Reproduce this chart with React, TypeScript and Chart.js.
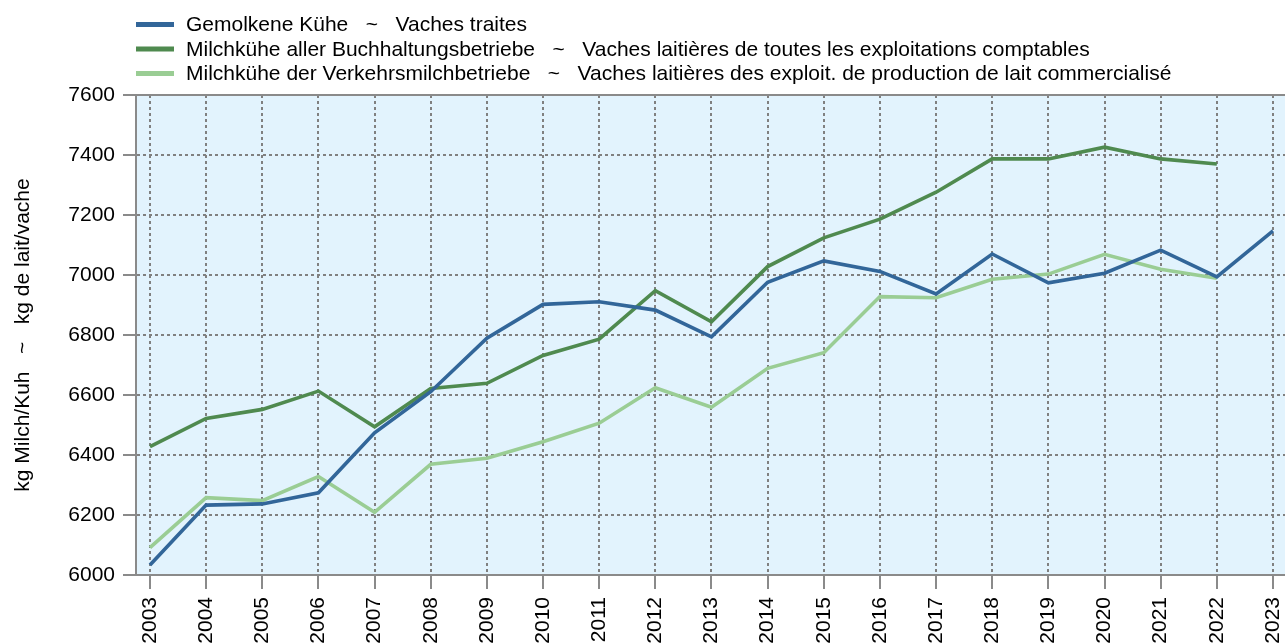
import React, { useEffect, useRef } from "react";
import { Chart, registerables } from "chart.js";

Chart.register(...registerables);

const years = [2003, 2004, 2005, 2006, 2007, 2008, 2009, 2010, 2011, 2012, 2013, 2014, 2015, 2016, 2017, 2018, 2019, 2020, 2021, 2022, 2023];
const gemolkene = [6033, 6233, 6237, 6274, 6474, 6611, 6789, 6902, 6911, 6883, 6794, 6976, 7047, 7012, 6937, 7070, 6974, 7006, 7083, 6994, 7147];
const buchhaltung = [6428, 6522, 6552, 6613, 6494, 6622, 6639, 6732, 6786, 6948, 6844, 7028, 7124, 7186, 7276, 7387, 7387, 7426, 7387, 7370, null];
const verkehrsmilch = [6091, 6258, 6248, 6328, 6209, 6369, 6389, 6444, 6506, 6624, 6559, 6689, 6741, 6928, 6924, 6986, 7003, 7069, 7019, 6989, null];
const seriesLabels = [
  "Gemolkene Kühe   ~   Vaches traites",
  "Milchkühe aller Buchhaltungsbetriebe   ~   Vaches laitières de toutes les exploitations comptables",
  "Milchkühe der Verkehrsmilchbetriebe   ~   Vaches laitières des exploit. de production de lait commercialisé",
];
const seriesColors = ["#326699", "#4f8a4f", "#9acd94"];
const yTitle = "kg Milch/Kuh   ~   kg de lait/vache";
const yMin = 6000;
const yMax = 7600;
const yStep = 200;

const FONT = "'Liberation Sans', Arial, sans-serif";

const bgPlugin = {
  id: "bgPlugin",
  beforeDraw(chart: any) {
    const { ctx, chartArea } = chart;
    ctx.save();
    ctx.fillStyle = "#e2f3fd";
    ctx.fillRect(chartArea.left, chartArea.top, chartArea.right - chartArea.left, chartArea.bottom - chartArea.top);
    ctx.restore();
  },
  afterDraw(chart: any) {
    const { ctx, chartArea } = chart;
    ctx.save();
    ctx.strokeStyle = "#8a8a8a";
    ctx.lineWidth = 2;
    ctx.beginPath();
    ctx.moveTo(chartArea.left - 12, chartArea.top);
    ctx.lineTo(chartArea.right, chartArea.top);
    ctx.stroke();
    // legend
    const rows = [24.5, 49, 73.5];
    chart.data.datasets.forEach((ds: any, i: number) => {
      const y = rows[i];
      ctx.strokeStyle = ds.borderColor;
      ctx.lineWidth = 5;
      ctx.beginPath();
      ctx.moveTo(136, y);
      ctx.lineTo(174, y);
      ctx.stroke();
      ctx.fillStyle = "#000";
      ctx.font = `21px ${FONT}`;
      ctx.textBaseline = "middle";
      ctx.textAlign = "left";
      ctx.fillText(ds.label, 186, y + 1);
    });
    ctx.restore();
  },
};

export default function App() {
  const ref = useRef<HTMLCanvasElement>(null);
  useEffect(() => {
    if (!ref.current) return;
    const mk = (arr: (number | null)[]) => years.map((x, i) => ({ x, y: arr[i] }));
    const chart = new Chart(ref.current, {
      type: "line",
      data: {
        datasets: [
          { label: seriesLabels[0], data: mk(gemolkene), borderColor: seriesColors[0] },
          { label: seriesLabels[1], data: mk(buchhaltung), borderColor: seriesColors[1] },
          { label: seriesLabels[2], data: mk(verkehrsmilch), borderColor: seriesColors[2] },
        ].map((d) => ({ ...d, borderWidth: 3.6, pointRadius: 0, tension: 0, fill: false, spanGaps: false })),
      },
      options: {
        animation: false,
        responsive: false,
        layout: { padding: { top: 95, left: 0, right: 0, bottom: 0 } },
        plugins: { legend: { display: false }, tooltip: { enabled: false } },
        scales: {
          x: {
            type: "linear",
            min: 2002.751,
            max: 2023.214,
            afterBuildTicks: (s: any) => {
              s.ticks = years.map((v) => ({ value: v }));
            },
            afterFit: (s: any) => {
              s.height = 69;
              s.paddingLeft = 0;
              s.paddingRight = 0;
            },
            grid: {
              color: "#808080",
              lineWidth: 2,
              tickLength: 14,
              tickColor: "#8a8a8a",
              tickWidth: 2,
              tickBorderDash: [],
            },
            border: { color: "#8a8a8a", width: 2, dash: [3, 3] },
            ticks: {
              minRotation: 90,
              maxRotation: 90,
              autoSkip: false,
              padding: 8,
              color: "#000",
              font: { size: 21, family: FONT },
              callback: (v: any) => String(v),
            },
          },
          y: {
            min: yMin,
            max: yMax,
            afterFit: (s: any) => {
              s.width = 136;
            },
            ticks: {
              stepSize: yStep,
              padding: 8,
              color: "#000",
              font: { size: 21, family: FONT },
              callback: (v: any) => String(v),
            },
            grid: {
              color: "#808080",
              lineWidth: 2,
              tickLength: 13,
              tickColor: "#8a8a8a",
              tickWidth: 2,
              tickBorderDash: [],
            },
            border: { color: "#8a8a8a", width: 2, dash: [3, 3] },
            title: {
              display: true,
              text: yTitle,
              color: "#000",
              font: { size: 21, family: FONT },
              padding: { top: 11, bottom: 0 },
            },
          },
        },
      },
      plugins: [bgPlugin],
    } as any);
    return () => chart.destroy();
  }, []);
  return (
    <div style={{ position: "fixed", left: 0, top: 0, width: 1285, height: 644, overflow: "hidden", background: "#fff" }}>
      <canvas ref={ref} width={1285} height={644} style={{ display: "block" }} />
    </div>
  );
}
